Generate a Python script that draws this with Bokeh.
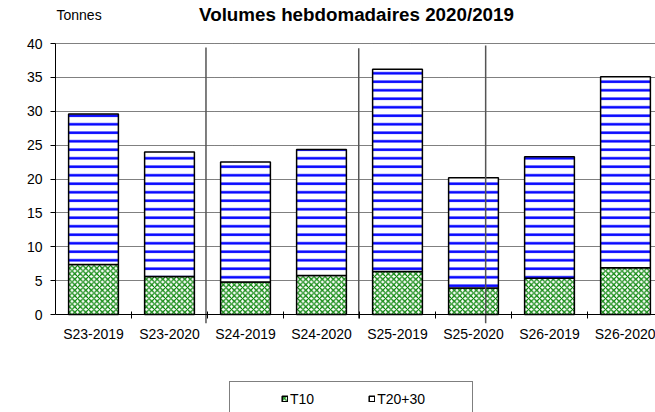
import numpy as np
from bokeh.plotting import figure
from bokeh.layouts import column
from bokeh.models import Range1d, FixedTicker, Legend, LegendItem, ColumnDataSource
from bokeh.core.properties import value
from bokeh.embed import file_html
from bokeh.resources import INLINE

# ---------------- data ----------------
categories = ["S23-2019", "S23-2020", "S24-2019", "S24-2020",
              "S25-2019", "S25-2020", "S26-2019", "S26-2020"]
t10 = [7.4, 5.6, 4.8, 5.75, 6.35, 3.9, 5.35, 6.9]
t20_30 = [22.2, 18.4, 17.7, 18.6, 29.85, 16.3, 17.95, 28.2]
series_names = ["T10", "T20+30"]
y_ticks = [0, 5, 10, 15, 20, 25, 30, 35, 40]
title_text = "Volumes hebdomadaires 2020/2019"
unit_text = "Tonnes"
# stray vertical separator lines present in the source chart
sep_x = [1.98, 3.99, 5.66]
sep_top = [39.4, 39.3, 39.7]
sep_bottom = [-1.3, -0.6, -1.3]

FONT = "Liberation Sans"
W = 655
LEFT = 55  # frame left edge (all strips are aligned on it by the column layout)

T10_STYLE = dict(fill_color="white", line_color="black", line_width=1.5,
                 hatch_pattern="diagonal_cross", hatch_color="#008000",
                 hatch_weight=1.2, hatch_scale=5.5)
T20_STYLE = dict(fill_color="white", line_color="black", line_width=1.5,
                 hatch_pattern="horizontal_line", hatch_color="#0000FF",
                 hatch_weight=2.5, hatch_scale=8.5)


def bare(fig):
    fig.axis.visible = False
    fig.grid.visible = False
    fig.outline_line_color = None
    fig.background_fill_color = "white"
    fig.border_fill_color = "white"
    return fig


# ---------------- top strip: title texts (pixel coordinates) ----------------
top_h = 34
top = bare(figure(width=W, height=top_h, x_range=Range1d(LEFT, W), y_range=Range1d(top_h, 0),
                  output_backend="svg", toolbar_location=None,
                  min_border_left=LEFT, min_border_right=0,
                  min_border_top=0, min_border_bottom=0))
top.text(x=[356], y=[14], text=[title_text], text_font=value(FONT),
         text_font_size="18.8px", text_font_style="bold",
         text_align="center", text_baseline="middle", text_color="black")
top.text(x=[LEFT + 1], y=[14.5], text=[unit_text], text_font=value(FONT),
         text_font_size="14px", text_align="left",
         text_baseline="middle", text_color="black")

# ---------------- main chart ----------------
n = len(categories)
xc = np.arange(n) + 0.5
tot = np.array(t10) + np.array(t20_30)
src = ColumnDataSource(dict(x=xc, t10=t10, tot=tot, cat=categories))

main_h = 338
p = figure(width=W, height=main_h,
           x_range=Range1d(0, (W - LEFT) / 76), y_range=Range1d(-4.13, 41.33),
           output_backend="svg", toolbar_location=None,
           min_border_left=LEFT, min_border_right=0,
           min_border_top=0, min_border_bottom=30)
p.outline_line_color = None
p.background_fill_color = "white"
p.border_fill_color = "white"

r1 = p.vbar(x="x", bottom=0, top="t10", width=0.655, source=src, **T10_STYLE)
r2 = p.vbar(x="x", bottom="t10", top="tot", width=0.655, source=src, **T20_STYLE)

p.segment(x0=sep_x, y0=sep_bottom, x1=sep_x, y1=sep_top,
          line_color="#555555", line_width=1.5)

p.yaxis.ticker = FixedTicker(ticks=y_ticks)
p.yaxis.bounds = (y_ticks[0], y_ticks[-1])
p.yaxis.axis_line_color = "black"
p.yaxis.major_tick_out = 5
p.yaxis.major_tick_in = 0
p.yaxis.minor_tick_line_color = None
p.yaxis.major_label_standoff = 8
p.yaxis.major_label_text_font = FONT
p.yaxis.major_label_text_font_size = "14px"
p.yaxis.major_label_text_color = "black"

p.xaxis.fixed_location = 0
p.xaxis.ticker = FixedTicker(ticks=list(xc), minor_ticks=list(range(1, n)))
p.xaxis.major_label_overrides = {float(x): c for x, c in zip(xc, categories)}
p.xaxis.major_tick_line_color = None
p.xaxis.major_tick_out = 0
p.xaxis.major_tick_in = 0
p.xaxis.minor_tick_line_color = "black"
p.xaxis.minor_tick_in = 3
p.xaxis.minor_tick_out = 4
p.xaxis.major_label_standoff = 7
p.xaxis.major_label_text_font = FONT
p.xaxis.major_label_text_font_size = "14px"
p.xaxis.major_label_text_color = "black"
p.xaxis.axis_line_color = "black"

p.xgrid.visible = False
p.ygrid.ticker = FixedTicker(ticks=y_ticks)
p.ygrid.grid_line_color = "black"
p.ygrid.grid_line_dash = "1 1"
p.ygrid.grid_line_width = 1

# ---------------- legend strip ----------------
leg_h = 412 - top_h - main_h
lg = bare(figure(width=W, height=leg_h, x_range=Range1d(0, 1), y_range=Range1d(1000, 1001),
                 output_backend="svg", toolbar_location=None,
                 min_border_left=LEFT, min_border_right=0,
                 min_border_top=0, min_border_bottom=0))
empty = ColumnDataSource(dict(x=[], top=[]))
d0 = lg.vbar(x="x", top="top", width=0.1, source=empty, fill_alpha=0, line_alpha=0)
# same bars as the chart, but out of this strip's view: they only feed the legend glyphs
d1 = lg.vbar(x="x", bottom=0, top="t10", width=0.1, source=src, **T10_STYLE)
d2 = lg.vbar(x="x", bottom="t10", top="tot", width=0.1, source=src,
             fill_color="white", line_color="black", line_width=1.5)

legA = Legend(items=[LegendItem(label=" ", renderers=[d0])],
              location=(229 - LEFT, -2), orientation="horizontal",
              padding=0, margin=0, spacing=0, glyph_width=0, glyph_height=1,
              label_width=242, label_height=31, label_standoff=0,
              border_line_color="black", border_line_width=1,
              background_fill_color="white", background_fill_alpha=1)
lg.add_layout(legA)
legB = Legend(items=[LegendItem(label=series_names[0], renderers=[d1]),
                     LegendItem(label=series_names[1], renderers=[d2])],
              location=(281 - LEFT, 5), orientation="horizontal",
              padding=0, margin=0, spacing=54, glyph_width=7, glyph_height=7,
              label_standoff=2, label_height=17, label_text_font=FONT,
              label_text_font_size="14px", label_text_color="black",
              border_line_color=None, background_fill_alpha=0)
lg.add_layout(legB)

layout = column(top, p, lg, spacing=0)
open("out.html", "w").write(file_html(layout, INLINE))
